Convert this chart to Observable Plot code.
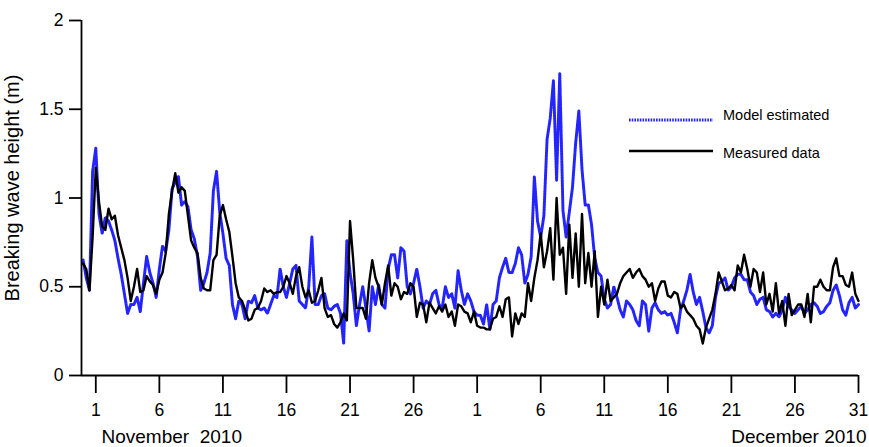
<!DOCTYPE html>
<html>
<head>
<meta charset="utf-8">
<script src="https://cdn.jsdelivr.net/npm/d3@7"></script>
<script src="https://cdn.jsdelivr.net/npm/@observablehq/plot@0.6"></script>
<style>
  body { margin: 0; background: #fff; font-family: "Liberation Sans", Arial, sans-serif; }
  #chart { position: relative; width: 869px; height: 447px; }
  .legend { position: absolute; left: 629px; top: 106px; font-size: 14.5px; color: #000; }
  .legend .row { display: flex; align-items: center; height: 28px; margin-bottom: 3px; }
  .legend svg { display: block; margin-right: 10px; }
  .legend .up { position: relative; top: -5px; }
  .legend .down { position: relative; top: 2px; }
</style>
</head>
<body>
<div id="chart"></div>
<script>
// Breaking wave height, 6-hourly values from 31 Oct 2010 00:00 UTC
const seriesStart = Date.UTC(2010, 9, 31, 0);
const stepHours = 6;

const modelEstimated = [
  0.65,0.55,0.48,1.15,1.28,0.91,0.80,0.89,0.87,0.82,
  0.76,0.66,0.57,0.46,0.35,0.40,0.40,0.44,0.36,0.52,
  0.67,0.58,0.52,0.44,0.60,0.73,0.70,0.82,1.05,1.09,
  1.12,0.96,0.98,0.95,0.82,0.77,0.67,0.48,0.52,0.58,
  0.69,1.04,1.15,0.92,0.80,0.66,0.62,0.40,0.32,0.42,
  0.40,0.32,0.42,0.41,0.45,0.38,0.37,0.38,0.35,0.40,
  0.45,0.44,0.60,0.50,0.44,0.52,0.60,0.62,0.42,0.40,
  0.38,0.50,0.78,0.40,0.40,0.45,0.46,0.38,0.37,0.39,
  0.40,0.35,0.18,0.76,0.58,0.46,0.28,0.40,0.50,0.38,
  0.25,0.50,0.40,0.51,0.40,0.38,0.60,0.68,0.68,0.55,
  0.72,0.70,0.50,0.46,0.52,0.60,0.50,0.38,0.42,0.40,
  0.46,0.48,0.40,0.38,0.50,0.44,0.46,0.38,0.59,0.48,
  0.40,0.46,0.42,0.36,0.34,0.34,0.29,0.40,0.26,0.40,
  0.42,0.55,0.61,0.66,0.58,0.58,0.63,0.72,0.68,0.52,
  0.57,0.67,1.12,0.87,0.78,0.90,1.33,1.45,1.66,1.10,
  1.70,0.93,0.78,0.92,1.06,1.31,1.49,1.16,0.96,0.96,
  0.85,0.66,0.58,0.56,0.43,0.38,0.40,0.50,0.44,0.37,
  0.33,0.42,0.40,0.37,0.31,0.28,0.42,0.40,0.25,0.38,
  0.41,0.37,0.35,0.36,0.34,0.35,0.30,0.24,0.37,0.42,
  0.48,0.57,0.47,0.40,0.44,0.36,0.27,0.24,0.28,0.44,
  0.52,0.53,0.55,0.48,0.50,0.55,0.57,0.57,0.54,0.54,
  0.47,0.45,0.40,0.43,0.44,0.37,0.36,0.33,0.35,0.33,
  0.37,0.44,0.39,0.37,0.35,0.37,0.39,0.35,0.37,0.40,
  0.41,0.39,0.35,0.36,0.39,0.41,0.48,0.51,0.45,0.37,
  0.34,0.41,0.44,0.38,0.40
];

const measuredData = [
  0.63,0.60,0.48,0.78,1.17,0.98,0.84,0.82,0.94,0.88,
  0.90,0.79,0.72,0.65,0.55,0.42,0.50,0.60,0.47,0.48,
  0.56,0.53,0.51,0.46,0.54,0.58,0.69,0.91,1.04,1.14,
  1.03,1.06,1.04,0.90,0.76,0.72,0.69,0.55,0.49,0.48,
  0.48,0.65,0.68,0.90,0.96,0.88,0.81,0.67,0.52,0.44,
  0.42,0.37,0.31,0.32,0.37,0.38,0.42,0.49,0.47,0.48,
  0.46,0.47,0.47,0.50,0.56,0.52,0.46,0.56,0.61,0.50,
  0.44,0.48,0.41,0.42,0.48,0.55,0.38,0.33,0.34,0.29,
  0.27,0.30,0.35,0.31,0.87,0.65,0.38,0.38,0.38,0.32,
  0.52,0.65,0.55,0.50,0.40,0.52,0.62,0.45,0.52,0.50,
  0.43,0.47,0.46,0.52,0.50,0.33,0.41,0.40,0.30,0.41,
  0.38,0.35,0.39,0.36,0.40,0.33,0.36,0.28,0.40,0.39,
  0.36,0.35,0.30,0.36,0.28,0.27,0.27,0.26,0.26,0.32,
  0.33,0.39,0.33,0.43,0.44,0.22,0.35,0.29,0.35,0.33,
  0.52,0.42,0.55,0.65,0.80,0.61,0.70,0.83,0.54,1.00,
  0.68,0.72,0.46,0.85,0.55,0.80,0.50,0.91,0.52,0.69,
  0.50,0.70,0.33,0.50,0.40,0.54,0.42,0.44,0.46,0.52,
  0.56,0.58,0.60,0.55,0.58,0.60,0.56,0.54,0.50,0.52,
  0.42,0.49,0.53,0.53,0.45,0.44,0.47,0.46,0.38,0.40,
  0.36,0.34,0.32,0.28,0.26,0.18,0.27,0.32,0.37,0.46,
  0.58,0.53,0.48,0.49,0.51,0.48,0.62,0.58,0.68,0.60,
  0.50,0.60,0.58,0.47,0.58,0.40,0.46,0.36,0.52,0.35,
  0.42,0.28,0.46,0.34,0.37,0.40,0.40,0.33,0.46,0.30,
  0.50,0.50,0.54,0.50,0.48,0.48,0.61,0.66,0.56,0.56,
  0.51,0.50,0.58,0.46,0.42
];

// Axis ticks: every fifth day of each month
const novemberTickDays = [1, 6, 11, 16, 21, 26];
const decemberTickDays = [1, 6, 11, 16, 21, 26, 31];
const yTicks = [0, 0.5, 1, 1.5, 2];
const yTickLabels = ["0", "0.5", "1", "1.5", "2"];
const yLabel = "Breaking wave height (m)";
const monthLabels = ["November\u00a0 2010", "December 2010"];
const seriesNames = ["Model estimated", "Measured data"];

const toRows = (values) => values.map((h, i) => ({
  date: new Date(seriesStart + i * stepHours * 3600e3),
  height: h
}));
const modelRows = toRows(modelEstimated);
const measuredRows = toRows(measuredData);

const tickDates = [
  ...novemberTickDays.map(d => new Date(Date.UTC(2010, 10, d))),
  ...decemberTickDays.map(d => new Date(Date.UTC(2010, 11, d)))
];
const xDomain = [new Date(Date.UTC(2010, 9, 30, 21)), new Date(Date.UTC(2010, 11, 31))];

const font = '"Liberation Sans", Arial, sans-serif';
// Model: thick dotted blue; measurements: solid black
const modelStyle = { stroke: "#2424ff", strokeWidth: 3, strokeDasharray: "1.6 1.1" };
const measuredStyle = { stroke: "#000", strokeWidth: 2.4 };

const chart = Plot.plot({
  width: 869,
  height: 447,
  marginLeft: 81,
  marginRight: 11,
  marginTop: 20,
  marginBottom: 72,
  style: { fontFamily: font, fontSize: "17.5px", background: "#fff", color: "#000", overflow: "visible" },
  x: { type: "utc", domain: xDomain },
  y: { domain: [0, 2] },
  marks: [
    Plot.line(modelRows, { x: "date", y: "height", ...modelStyle }),
    Plot.line(measuredRows, { x: "date", y: "height", ...measuredStyle }),
    Plot.ruleY([0], { stroke: "#000", strokeWidth: 1.8 }),
    Plot.ruleX([xDomain[0]], { stroke: "#000", strokeWidth: 1.8 }),
    Plot.axisY({
      ticks: yTicks,
      tickFormat: (d) => yTickLabels[yTicks.indexOf(d)],
      tickSize: 12, tickPadding: 6, strokeWidth: 1.8,
      fontSize: 17.5, label: null
    }),
    Plot.axisX({
      ticks: tickDates,
      tickFormat: (d) => String(d.getUTCDate()),
      tickSize: 18, tickPadding: 10, strokeWidth: 1.8,
      fontSize: 17.5, label: null
    }),
    Plot.text([yLabel], {
      frameAnchor: "left", textAnchor: "middle", rotate: -90,
      dx: -69, dy: -10, lineAnchor: "middle", fontSize: 20
    }),
    Plot.text([monthLabels[0]], {
      frameAnchor: "bottom-left", textAnchor: "start", lineAnchor: "middle",
      dx: 20, dy: 61, fontSize: 19
    }),
    Plot.text([monthLabels[1]], {
      frameAnchor: "bottom-right", textAnchor: "end", lineAnchor: "middle",
      dx: 8, dy: 61, fontSize: 19
    })
  ]
});

const container = document.getElementById("chart");
container.appendChild(chart);

// Legend overlaid in the upper right of the plot area
const legend = document.createElement("div");
legend.className = "legend";
legend.innerHTML = `
  <div class="row">
    <svg width="84" height="8"><line x1="0" y1="4" x2="84" y2="4" stroke="${modelStyle.stroke}" stroke-width="${modelStyle.strokeWidth}" stroke-dasharray="${modelStyle.strokeDasharray}"/></svg>
    <span class="up">${seriesNames[0]}</span>
  </div>
  <div class="row">
    <svg width="84" height="8"><line x1="0" y1="4" x2="84" y2="4" stroke="${measuredStyle.stroke}" stroke-width="${measuredStyle.strokeWidth}"/></svg>
    <span class="down">${seriesNames[1]}</span>
  </div>`;
container.appendChild(legend);
</script>
</body>
</html>
